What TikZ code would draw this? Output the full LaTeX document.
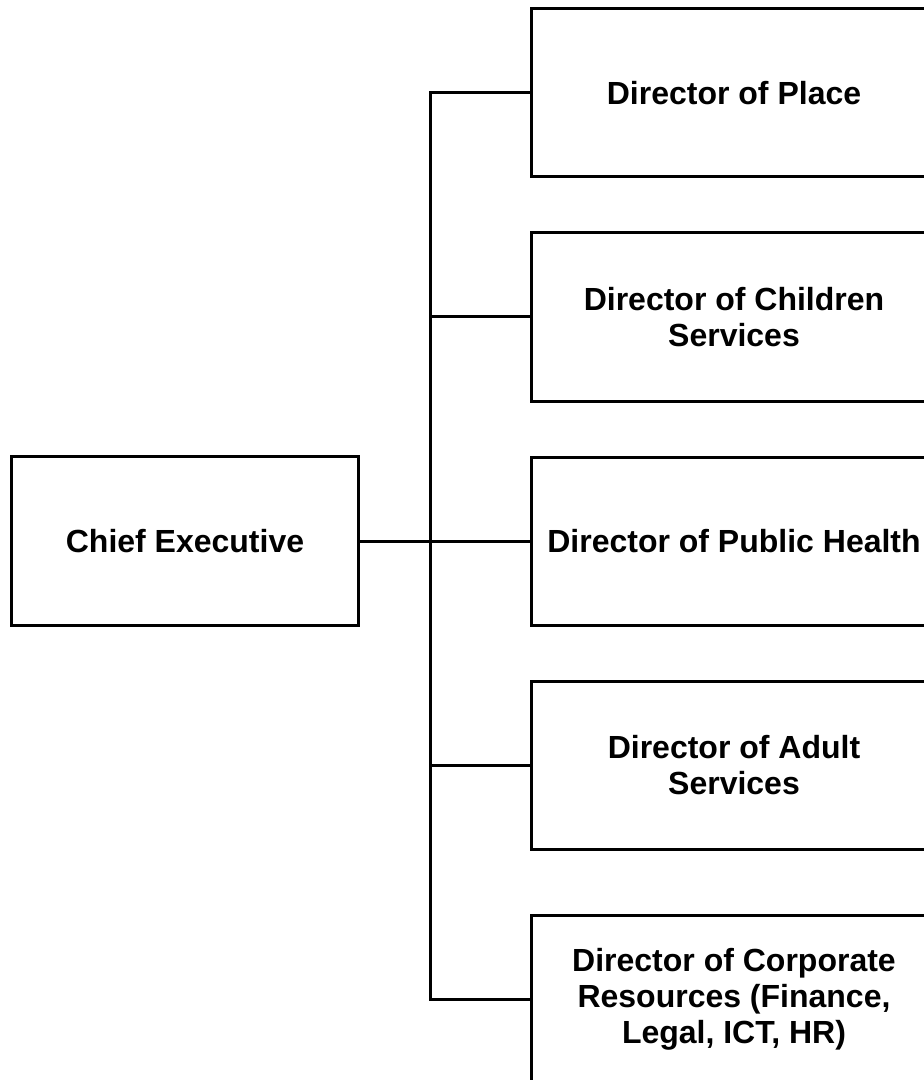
\documentclass[tikz,border=0pt]{standalone}
\usepackage{fontspec}
\setmainfont{Liberation Sans}
\begin{document}
\begin{tikzpicture}[x=0.5pt,y=-0.5pt,
  box/.style={draw=black, line width=1.5pt, rectangle, inner sep=0pt, align=center,
    font=\fontsize{16}{18}\selectfont\bfseries},
  dirbox/.style={box, minimum width=202.5pt, minimum height=84pt},
  chiefbox/.style={box, minimum width=173.3pt, minimum height=84.5pt},
  link/.style={line width=1.5pt}]
\useasboundingbox (0,0) rectangle (924,1080);
\clip (0,0) rectangle (924,1080);
\node[chiefbox] (chief) at (185,541.2) {Chief Executive};
\node[dirbox] (place) at (734,93) {Director of Place};
\node[dirbox] (child) at (734,317) {Director of Children\\Services};
\node[dirbox] (pub) at (734,541.2) {Director of Public Health};
\node[dirbox] (adult) at (734,765.5) {Director of Adult\\Services};
\node[dirbox] (corp) at (734,999) {Director of Corporate\\Resources (Finance,\\Legal, ICT, HR)};
\coordinate (trunk) at (430.7,0);
\draw[link] (place.west) -- (place.west -| trunk) -- (corp.west -| trunk) -- (corp.west);
\draw[link] (child.west) -- (child.west -| trunk);
\draw[link] (adult.west) -- (adult.west -| trunk);
\draw[link] (chief.east) -- (pub.west);
\end{tikzpicture}
\end{document}
